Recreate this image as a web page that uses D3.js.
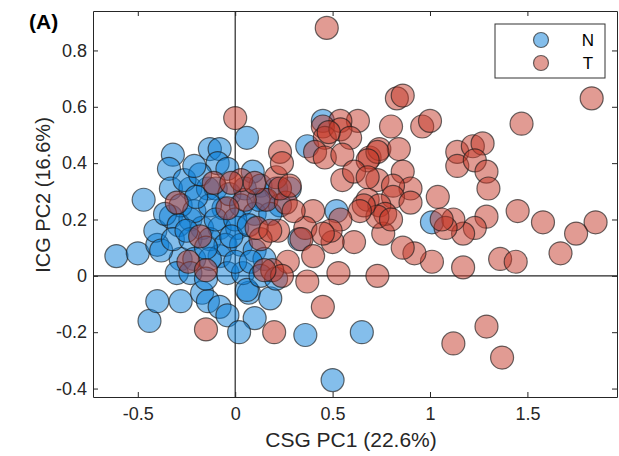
<!DOCTYPE html>
<html>
<head>
<meta charset="utf-8">
<script src="https://cdn.jsdelivr.net/npm/d3@7"></script>
<style>
  body { margin: 0; background: #fff; }
  svg { font-family: "Liberation Sans", Arial, Helvetica, sans-serif; }
</style>
</head>
<body>
<svg id="chart"></svg>
<script>
// group N (normal) scores, [PC1, PC2]
const groupN = [
    [-0.61, 0.07], [-0.50, 0.08], [-0.47, 0.27], [-0.40, 0.11], [-0.41, 0.16],
    [-0.44, -0.16], [-0.40, -0.09], [-0.28, -0.09], [-0.17, -0.06], [-0.14, -0.09],
    [-0.08, -0.11], [-0.04, -0.14], [0.07, -0.06], [0.10, -0.15], [0.02, -0.20],
    [0.18, -0.08], [0.36, -0.21], [0.65, -0.20], [0.50, -0.37], [1.01, 0.19],
    [-0.32, 0.43], [-0.34, 0.38], [-0.13, 0.45], [-0.08, 0.45], [-0.09, 0.40],
    [0.06, 0.49], [0.45, 0.55], [0.37, 0.46],
    [-0.33, 0.31], [-0.23, 0.31], [-0.14, 0.31], [-0.04, 0.38], [0.09, 0.37],
    [-0.33, 0.21], [-0.23, 0.20], [-0.17, 0.17], [-0.08, 0.17], [0.01, 0.17],
    [-0.06, 0.24], [-0.28, 0.06], [-0.30, 0.01], [-0.08, 0.07], [-0.04, 0.01],
    [0.04, 0.01], [0.06, -0.05], [-0.28, 0.25],
    [-0.26, 0.34], [-0.18, 0.36], [-0.10, 0.31], [-0.03, 0.29], [0.05, 0.31],
    [0.13, 0.32], [0.21, 0.31], [0.28, 0.31], [0.15, 0.27], [0.23, 0.25],
    [-0.36, 0.22], [-0.29, 0.18], [-0.21, 0.23], [-0.13, 0.25], [0.03, 0.25],
    [0.10, 0.22], [0.18, 0.22], [-0.38, 0.09], [-0.32, 0.13], [-0.23, 0.13],
    [-0.13, 0.13], [-0.05, 0.11], [0.03, 0.11], [0.10, 0.09], [0.15, 0.06],
    [-0.21, 0.06], [-0.13, 0.06], [0.00, 0.05], [0.08, 0.05], [-0.23, 0.01],
    [-0.15, -0.01], [0.13, 0.00], [0.21, -0.01], [0.33, 0.13], [0.52, 0.23],
    [-0.21, 0.39], [-0.20, 0.28], [-0.10, 0.20], [0.00, 0.20], [-0.15, 0.10],
    [-0.02, 0.14], [0.07, 0.18], [-0.25, 0.16], [0.12, 0.27]
];

// group T (tumour) scores, [PC1, PC2]
const groupT = [
    [0.47, 0.88], [1.83, 0.63], [1.47, 0.54], [0.83, 0.63], [0.86, 0.64],
    [0.80, 0.53], [0.96, 0.53], [1.00, 0.55], [0.63, 0.55], [0.54, 0.55],
    [0.45, 0.53], [0.46, 0.49], [0.54, 0.52], [0.59, 0.49], [0.41, 0.44],
    [0.46, 0.42], [0.55, 0.43], [0.69, 0.42], [0.74, 0.45], [0.84, 0.45],
    [0.73, 0.44], [0.68, 0.41], [0.55, 0.34], [0.61, 0.37], [0.73, 0.34],
    [0.68, 0.35], [0.86, 0.37], [0.90, 0.31], [0.81, 0.32], [0.81, 0.28],
    [0.90, 0.26], [0.68, 0.27], [1.04, 0.28], [1.14, 0.44], [1.22, 0.46],
    [1.27, 0.47], [1.14, 0.39], [1.23, 0.41], [1.29, 0.37], [1.30, 0.31],
    [1.45, 0.23], [1.58, 0.19], [1.85, 0.19], [1.75, 0.15], [1.67, 0.08],
    [1.36, 0.06], [1.44, 0.05], [1.17, 0.03], [1.01, 0.05], [0.92, 0.08],
    [0.86, 0.10], [0.76, 0.15], [0.61, 0.12], [0.50, 0.12], [0.37, -0.02],
    [0.53, 0.01], [0.73, 0.00], [0.45, -0.11], [1.12, -0.24], [1.29, -0.18],
    [1.37, -0.29], [1.29, 0.21], [1.23, 0.17], [1.17, 0.15], [1.12, 0.20],
    [1.08, 0.17], [1.06, 0.20], [0.74, 0.25], [0.77, 0.22], [0.73, 0.21],
    [0.80, 0.20], [0.66, 0.25], [0.64, 0.23], [0.54, 0.20], [0.40, 0.23],
    [0.36, 0.17], [0.49, 0.16], [0.45, 0.15], [0.34, 0.13], [0.40, 0.07],
    [0.27, 0.05], [0.19, 0.02], [0.24, 0.00], [0.15, 0.02], [0.22, 0.16],
    [0.13, 0.13], [0.11, 0.17], [0.18, 0.16], [0.16, 0.27], [0.26, 0.26],
    [0.30, 0.23], [0.05, 0.27], [0.03, 0.34], [0.10, 0.33], [0.21, 0.35],
    [0.23, 0.31], [0.28, 0.32], [0.23, 0.44], [0.24, 0.40], [0.00, 0.56],
    [-0.11, 0.33], [-0.02, 0.33], [-0.30, 0.26], [-0.04, 0.24], [-0.18, 0.14],
    [-0.24, 0.05], [-0.15, 0.02], [-0.15, -0.19], [0.20, -0.20], [0.48, 0.51]
];

const groups = ["N", "T"];
const xTicks = [-0.5, 0, 0.5, 1, 1.5];
const xTickLabels = ["-0.5", "0", "0.5", "1", "1.5"];
const yTicks = [-0.4, -0.2, 0, 0.2, 0.4, 0.6, 0.8];
const yTickLabels = ["-0.4", "-0.2", "0", "0.2", "0.4", "0.6", "0.8"];

const W = 619, H = 456;
const margin = { top: 11, right: 2, bottom: 59, left: 93 };
const width = W - margin.left - margin.right;
const height = H - margin.top - margin.bottom;

const fill = { N: "rgb(10,125,215)", T: "rgb(195,55,40)" };
const fillOpacity = 0.5;
const axisColor = "#262626";

const svg = d3.select("#chart").attr("width", W).attr("height", H);

const x = d3.scaleLinear().domain([-0.73, 1.96]).range([0, width]);
const y = d3.scaleLinear().domain([-0.43, 0.94]).range([height, 0]);

const plot = svg.append("g").attr("transform", `translate(${margin.left}, ${margin.top})`);

// clip the markers to the axes box
svg.append("defs").append("clipPath").attr("id", "box")
    .append("rect").attr("width", width).attr("height", height);

// zero lines
plot.append("line")
    .attr("x1", x(0)).attr("x2", x(0)).attr("y1", 0).attr("y2", height)
    .attr("stroke", axisColor).attr("stroke-width", 1.2);
plot.append("line")
    .attr("x1", 0).attr("x2", width).attr("y1", y(0)).attr("y2", y(0))
    .attr("stroke", axisColor).attr("stroke-width", 1.2);

const marks = plot.append("g").attr("clip-path", "url(#box)");
[["N", groupN], ["T", groupT]].forEach(([g, pts]) => {
    marks.append("g").selectAll("circle")
        .data(pts)
        .join("circle")
        .attr("cx", d => x(d[0]))
        .attr("cy", d => y(d[1]))
        .attr("r", 11.5)
        .attr("fill", fill[g])
        .attr("fill-opacity", fillOpacity)
        .attr("stroke", "#1a1a1a")
        .attr("stroke-opacity", 0.65)
        .attr("stroke-width", 1.2);
});

// axes, ticks inside as in the original figure
const fmtX = d => xTickLabels[xTicks.indexOf(d)];
const fmtY = d => yTickLabels[yTicks.indexOf(d)];

const axBottom = plot.append("g").attr("transform", `translate(0, ${height})`)
    .call(d3.axisBottom(x).tickValues(xTicks).tickFormat(fmtX).tickSizeInner(-5).tickSizeOuter(0).tickPadding(10));
const axTop = plot.append("g")
    .call(d3.axisTop(x).tickValues(xTicks).tickFormat("").tickSizeInner(-5).tickSizeOuter(0));
const axLeft = plot.append("g")
    .call(d3.axisLeft(y).tickValues(yTicks).tickFormat(fmtY).tickSizeInner(-5).tickSizeOuter(0).tickPadding(6));
const axRight = plot.append("g").attr("transform", `translate(${width}, 0)`)
    .call(d3.axisRight(y).tickValues(yTicks).tickFormat("").tickSizeInner(-5).tickSizeOuter(0));

[axBottom, axTop, axLeft, axRight].forEach(a => {
    a.selectAll("path, line").attr("stroke", axisColor).attr("stroke-width", 1);
    a.selectAll("text").attr("fill", "#262626").style("font-size", "18px");
    a.attr("font-family", null);
});

// axis labels
svg.append("text")
    .attr("x", margin.left + width / 2 - 4)
    .attr("y", 447)
    .attr("text-anchor", "middle")
    .style("font-size", "21px")
    .attr("fill", "#262626")
    .text("CSG PC1 (22.6%)");

svg.append("text")
    .attr("transform", `translate(50, 195) rotate(-90)`)
    .attr("text-anchor", "middle")
    .style("font-size", "20px")
    .attr("fill", "#262626")
    .text("ICG PC2 (16.6%)");

svg.append("text")
    .attr("x", 29).attr("y", 29)
    .style("font-size", "21px")
    .style("font-weight", "bold")
    .attr("fill", "#000")
    .text("(A)");

// legend
const legend = svg.append("g").attr("transform", "translate(495, 24)");
legend.append("rect")
    .attr("width", 110).attr("height", 54)
    .attr("fill", "#fff").attr("stroke", "#333").attr("stroke-width", 1);
groups.forEach((g, i) => {
    legend.append("circle")
        .attr("cx", 46).attr("cy", 16 + i * 23).attr("r", 7.5)
        .attr("fill", fill[g]).attr("fill-opacity", fillOpacity)
        .attr("stroke", "#1a1a1a").attr("stroke-opacity", 0.65).attr("stroke-width", 1.2);
    legend.append("text")
        .attr("x", 93).attr("y", 22 + i * 23)
        .attr("text-anchor", "middle")
        .style("font-size", "17px")
        .attr("fill", "#000")
        .text(g);
});
</script>
</body>
</html>
